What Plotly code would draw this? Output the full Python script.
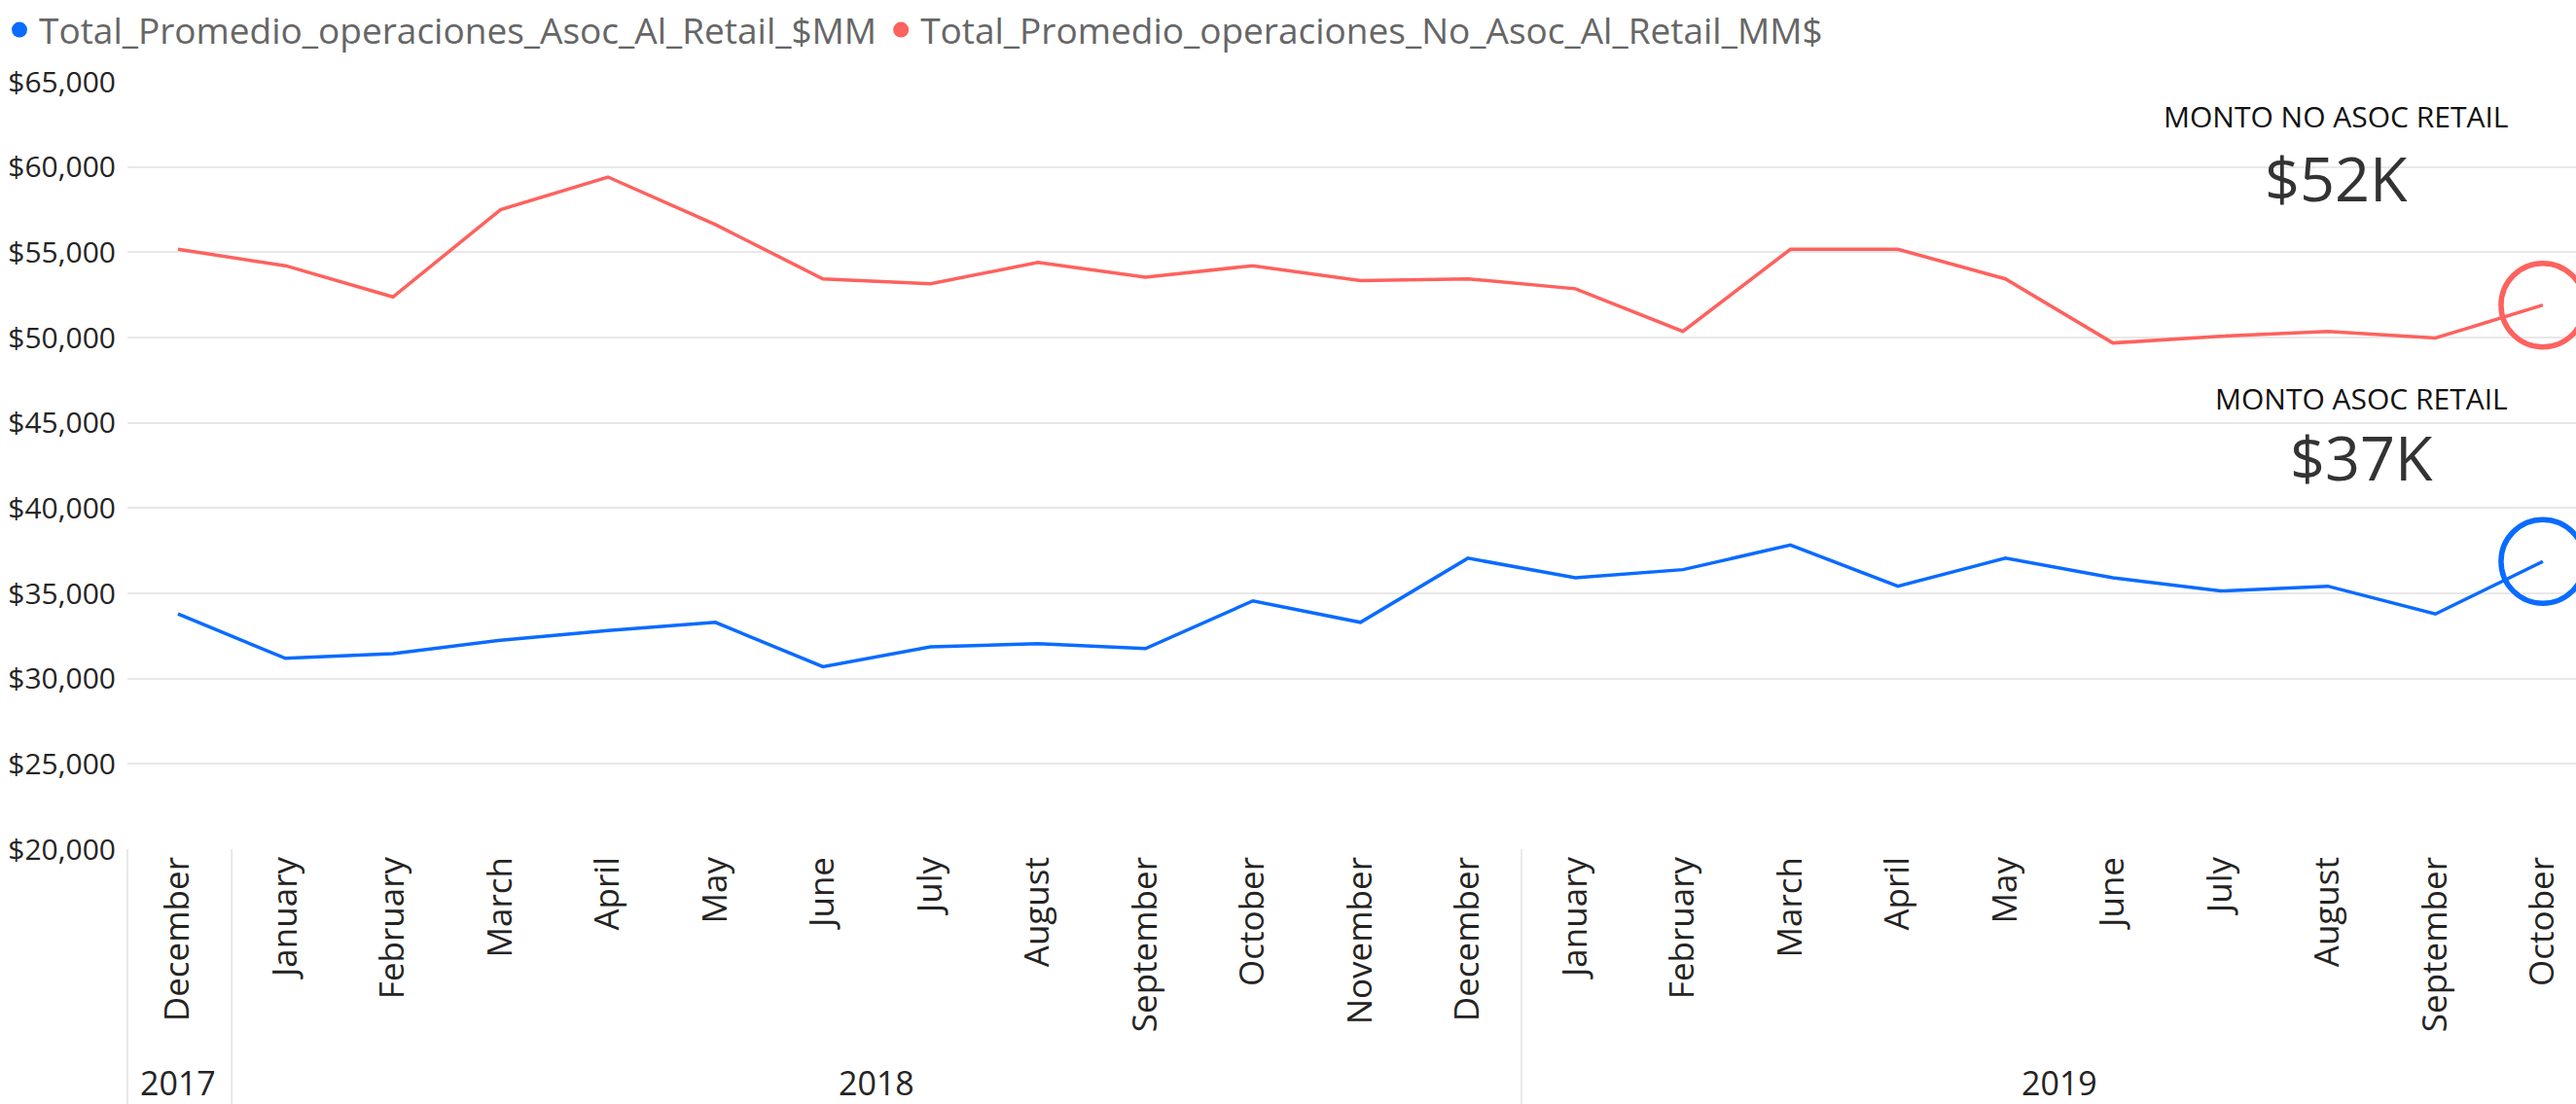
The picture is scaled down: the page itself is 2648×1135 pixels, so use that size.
import plotly.graph_objects as go

# ---------------- data ----------------
months = ["December",
          "January", "February", "March", "April", "May", "June", "July",
          "August", "September", "October", "November", "December",
          "January", "February", "March", "April", "May", "June", "July",
          "August", "September", "October"]
years = [2017] + [2018] * 12 + [2019] * 10

asoc_retail = [33790, 31190, 31470, 32250, 32820, 33300, 30700, 31860,
               32050, 31760, 34560, 33300, 37060, 35910, 36390, 37830,
               35420, 37060, 35910, 35140, 35420, 33790, 36870]
no_asoc_retail = [55170, 54210, 52380, 57490, 59410, 56620, 53440, 53150,
                  54400, 53540, 54210, 53340, 53440, 52860, 50360, 55170,
                  55170, 53440, 49680, 50070, 50360, 49970, 51900]

name_asoc = "Total_Promedio_operaciones_Asoc_Al_Retail_$MM"
name_no_asoc = "Total_Promedio_operaciones_No_Asoc_Al_Retail_MM$"
card_titles = ["MONTO NO ASOC RETAIL", "MONTO ASOC RETAIL"]
y_ticks = [20000, 25000, 30000, 35000, 40000, 45000, 50000, 55000, 60000, 65000]
y_tick_labels = ["$" + format(v, ",") for v in y_ticks]

# ---------------- style ----------------
W, H = 2648, 1135
ML, MR, MT, MB = 131, 0, 84, 262
PW, PH = W - ML - MR, H - MT - MB
BLUE = "#0A6BFF"
RED = "#FD625E"
TXT = "#252423"
GRID = "#E8E8E8"
FONT = "Open Sans, Segoe UI, sans-serif"

idx = list(range(len(months)))

fig = go.Figure()
fig.add_trace(go.Scatter(x=idx, y=asoc_retail, mode="lines", name=name_asoc,
                         line=dict(color=BLUE, width=3.5), showlegend=False))
fig.add_trace(go.Scatter(x=idx, y=no_asoc_retail, mode="lines", name=name_no_asoc,
                         line=dict(color=RED, width=3.5), showlegend=False))
# end circles
fig.add_trace(go.Scatter(x=[idx[-1]], y=[asoc_retail[-1]], mode="markers", showlegend=False,
                         marker=dict(symbol="circle-open", size=86, color=BLUE,
                                     line=dict(width=5.5, color=BLUE))))
fig.add_trace(go.Scatter(x=[idx[-1]], y=[no_asoc_retail[-1]], mode="markers", showlegend=False,
                         marker=dict(symbol="circle-open", size=86, color=RED,
                                     line=dict(width=5.5, color=RED))))
# legend entries (dots)
fig.add_trace(go.Scatter(x=[None], y=[None], mode="markers", name=name_asoc,
                         marker=dict(color=BLUE, size=16)))
fig.add_trace(go.Scatter(x=[None], y=[None], mode="markers", name=name_no_asoc,
                         marker=dict(color=RED, size=16)))

x0 = -0.47
span = (PW) / 110.5
fig.update_xaxes(range=[x0, x0 + span], tickmode="array", tickvals=idx, ticktext=months,
                 tickangle=-90, showgrid=False, zeroline=False, showline=False,
                 tickfont=dict(family=FONT, size=35, color=TXT), ticks="")
fig.update_yaxes(range=[20000, 65000], tickmode="array", tickvals=y_ticks,
                 ticktext=y_tick_labels, showgrid=True, gridcolor=GRID, gridwidth=2,
                 zeroline=False, showline=False, ticks="", ticklabelstandoff=11,
                 tickfont=dict(family=FONT, size=30, color=TXT))

# year separators and labels
ybot = -MB / PH
shapes = [dict(type="line", xref="paper", yref="paper", x0=0, x1=0, y0=0, y1=ybot,
               line=dict(color=GRID, width=2))]
annotations = []
uniq_years = []
for y in years:
    if y not in uniq_years:
        uniq_years.append(y)
for yr in uniq_years:
    pos = [i for i, y in enumerate(years) if y == yr]
    annotations.append(dict(x=sum(pos) / len(pos), y=(873 - 1113) / PH, xref="x", yref="paper",
                            xanchor="center", yanchor="middle",
                            text=str(yr), showarrow=False,
                            font=dict(family=FONT, size=34, color=TXT)))
    if pos[-1] != idx[-1]:
        shapes.append(dict(type="line", xref="x", yref="paper", x0=pos[-1] + 0.5, x1=pos[-1] + 0.5,
                           y0=0, y1=ybot, line=dict(color=GRID, width=2)))

def px2paper(px, py):
    return (px - ML) / PW, (MT + PH - py) / PH

# cards
for title, val, (tx, ty), (vx, vy) in [
        (card_titles[0], no_asoc_retail[-1], (2401, 120), (2401, 182)),
        (card_titles[1], asoc_retail[-1], (2427, 409), (2427, 469))]:
    ax_, ay_ = px2paper(tx, ty)
    annotations.append(dict(x=ax_, y=ay_, xref="paper", yref="paper", text=title, showarrow=False,
                            xanchor="center", yanchor="middle",
                            font=dict(family=FONT, size=30, color="#111111")))
    bx_, by_ = px2paper(vx, vy)
    annotations.append(dict(x=bx_, y=by_, xref="paper", yref="paper",
                            xanchor="center", yanchor="middle",
                            text="$%dK" % round(val / 1000), showarrow=False,
                            font=dict(family=FONT, size=63, color="#333333")))

fig.update_layout(
    width=W, height=H, autosize=False,
    margin=dict(l=ML, r=MR, t=MT, b=MB, pad=0),
    paper_bgcolor="white", plot_bgcolor="white",
    shapes=shapes, annotations=annotations,
    legend=dict(orientation="h", x=0, y=1, xref="container", yref="container",
                xanchor="left", yanchor="top", font=dict(family=FONT, size=37, color="#666666"),
                itemsizing="trace", bgcolor="rgba(0,0,0,0)", tracegroupgap=0),
    font=dict(family=FONT),
)

fig.write_html("out.html", config={"displayModeBar": False},
               post_script="document.body.style.margin='0';")
